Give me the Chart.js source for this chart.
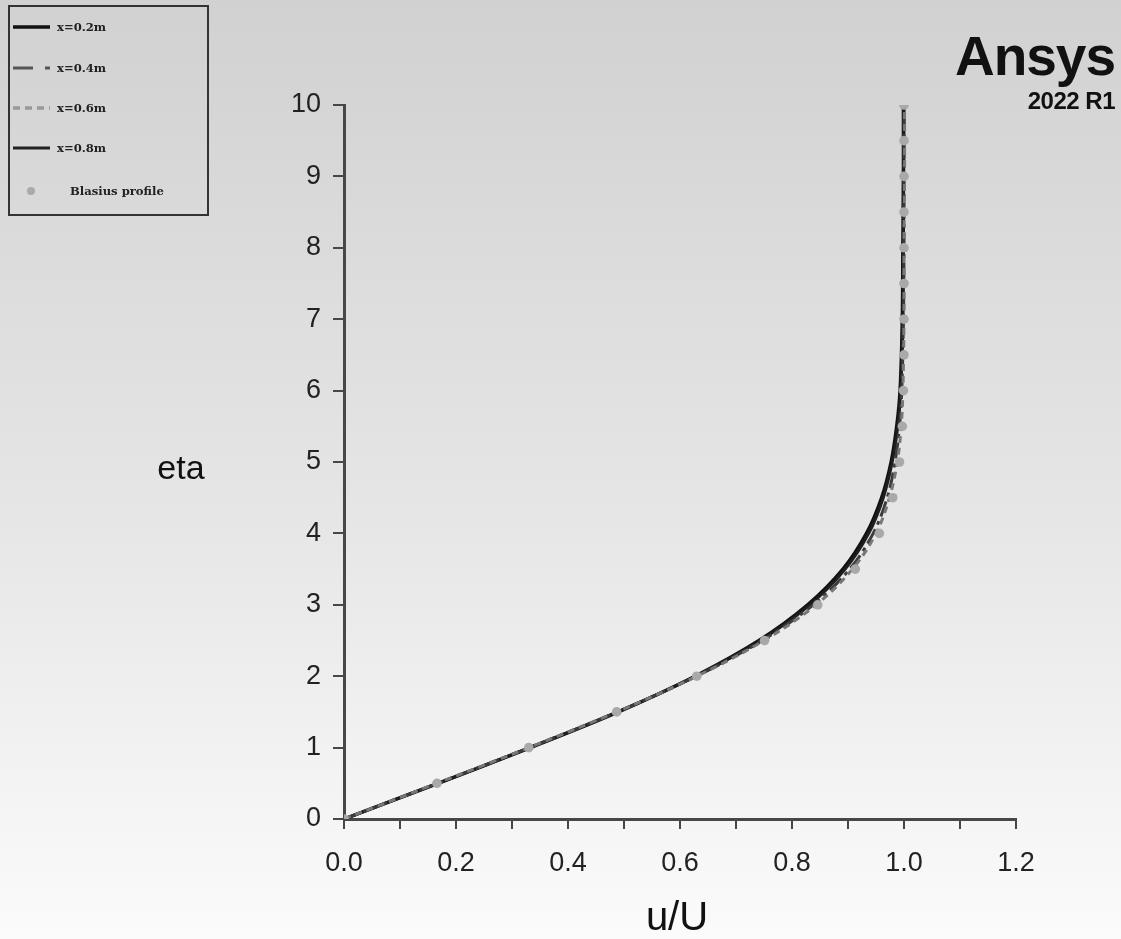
<!DOCTYPE html>
<html>
<head>
<meta charset="utf-8">
<script src="https://cdn.jsdelivr.net/npm/chart.js@4/dist/chart.umd.min.js"></script>
<style>
    body {
        margin: 0;
        width: 1121px;
        height: 939px;
        overflow: hidden;
        background: linear-gradient(#d1d1d1, #e6e6e6 55%, #fbfbfb);
        font-family: 'Liberation Sans', Arial, sans-serif;
    }
    #wrap { position: absolute; left: 0; top: 0; width: 1121px; height: 939px; }
    .abs { position: absolute; white-space: nowrap; }
    #legend_box {
        position: absolute; left: 8px; top: 5px; width: 201px; height: 211px;
        box-sizing: border-box; border: 2px solid #333;
    }
    .leg_text { font-family: 'DejaVu Serif', serif; font-weight: bold; font-size: 11.6px; color: #222; transform: translateY(-50%); }
    .axis_title { color: #111; transform: translate(-50%, -50%); }
</style>
</head>
<body>
<div id="wrap"><canvas id="profile_chart"></canvas></div>

<div id="legend_box"></div>
<svg class="abs" style="left:0;top:0" width="60" height="210">
    <line x1="13" y1="27" x2="50" y2="27" stroke="#111" stroke-width="3.5"/>
    <line x1="13" y1="68" x2="50" y2="68" stroke="#555" stroke-width="3" stroke-dasharray="20 12 5"/>
    <line x1="13" y1="108" x2="50" y2="108" stroke="#999" stroke-width="3.5" stroke-dasharray="7 5"/>
    <line x1="13" y1="148" x2="50" y2="148" stroke="#222" stroke-width="3"/>
    <circle cx="31" cy="191" r="4" fill="#aaa"/>
</svg>
<div class="abs leg_text" style="left:57px;top:27px">x=0.2m</div>
<div class="abs leg_text" style="left:57px;top:68px">x=0.4m</div>
<div class="abs leg_text" style="left:57px;top:108px">x=0.6m</div>
<div class="abs leg_text" style="left:57px;top:148px">x=0.8m</div>
<div class="abs leg_text" style="left:70px;top:191px">Blasius profile</div>

<div class="abs" style="right:6px;top:24px;font-weight:bold;font-size:55px;letter-spacing:-1px;color:#111">Ansys</div>
<div class="abs" style="right:6px;top:87px;font-weight:bold;font-size:24px;letter-spacing:-0.5px;color:#111">2022 R1</div>

<div class="abs axis_title" style="left:181px;top:467px;font-size:34px">eta</div>
<div class="abs axis_title" style="left:677px;top:916px;font-size:40px">u/U</div>

<script>
// eta stations of the CFD profiles
const etaCfd = [0, 0.5, 1, 1.5, 2, 2.5, 3, 3.5, 4, 4.5, 5, 5.5, 6, 7, 8, 9, 10];
// u/U
const uX02 = [0, 0.168, 0.333, 0.490, 0.627, 0.741, 0.828, 0.891, 0.933, 0.960, 0.977, 0.987, 0.993, 0.997, 0.998, 0.999, 0.999];
const uX04 = [0, 0.167, 0.331, 0.488, 0.629, 0.747, 0.838, 0.903, 0.945, 0.970, 0.984, 0.992, 0.996, 0.999, 1.000, 1.000, 1.000];
const uX06 = [0, 0.166, 0.330, 0.487, 0.630, 0.750, 0.843, 0.908, 0.950, 0.974, 0.988, 0.995, 0.998, 1.000, 1.000, 1.001, 1.001];
const uX08 = [0, 0.168, 0.332, 0.489, 0.628, 0.743, 0.832, 0.895, 0.937, 0.963, 0.979, 0.989, 0.994, 0.998, 0.999, 0.999, 1.000];

// Blasius markers
const etaBlasius = [0, 0.5, 1, 1.5, 2, 2.5, 3, 3.5, 4, 4.5, 5, 5.5, 6, 6.5, 7, 7.5, 8, 8.5, 9, 9.5, 10];
const uBlasius = [0, 0.166, 0.330, 0.487, 0.630, 0.751, 0.846, 0.913, 0.956, 0.980, 0.992, 0.997, 0.999, 1.0, 1.0, 1.0, 1.0, 1.0, 1.0, 1.0, 1.0];

const xTicks = { min: 0, max: 1.2, step: 0.1 };
const yTicks = { min: 0, max: 10, step: 1 };

function toPoints(us, etas) {
    return us.map((u, i) => ({ x: u, y: etas[i] }));
}

function lineSet(label, us, color, width, dash, order) {
    return {
        label: label,
        data: toPoints(us, etaCfd),
        showLine: true,
        borderColor: color,
        borderWidth: width,
        borderDash: dash,
        pointRadius: 0,
        tension: 0.35,
        fill: false,
        order: order
    };
}

const axisColor = '#474747';
const tickFont = { family: "'Liberation Sans', Arial, sans-serif", size: 27 };

new Chart(document.getElementById('profile_chart').getContext('2d'), {
    type: 'scatter',
    data: {
        datasets: [
            lineSet('x=0.2m', uX02, '#111', 3.5, [], 4),
            lineSet('x=0.4m', uX04, '#3c3c3c', 3, [16, 5, 4, 5], 2),
            lineSet('x=0.6m', uX06, '#777', 3, [7, 5], 1),
            lineSet('x=0.8m', uX08, '#1e1e1e', 3, [], 3),
            {
                label: 'Blasius profile',
                data: toPoints(uBlasius, etaBlasius),
                showLine: false,
                pointRadius: 4.8,
                pointBackgroundColor: '#a9a9a9',
                pointBorderWidth: 0,
                order: 0
            }
        ]
    },
    options: {
        responsive: true,
        maintainAspectRatio: false,
        animation: false,
        layout: { padding: { left: 0, top: 105, right: 105, bottom: 0 } },
        plugins: {
            legend: { display: false },
            tooltip: { enabled: false }
        },
        scales: {
            x: {
                type: 'linear',
                min: xTicks.min,
                max: xTicks.max,
                afterFit: scale => { scale.height = 120; },
                border: { color: axisColor, width: 3 },
                grid: { drawOnChartArea: false, color: axisColor, lineWidth: 2, tickLength: 10 },
                ticks: {
                    stepSize: xTicks.step,
                    autoSkip: false,
                    maxRotation: 0,
                    padding: 18,
                    color: '#222',
                    font: tickFont,
                    callback: v => (Math.round(v * 10) % 2 === 0 ? v.toFixed(1) : '')
                }
            },
            y: {
                type: 'linear',
                min: yTicks.min,
                max: yTicks.max,
                afterFit: scale => { scale.width = 344; },
                border: { color: axisColor, width: 3 },
                grid: { drawOnChartArea: false, color: axisColor, lineWidth: 2, tickLength: 11 },
                ticks: {
                    stepSize: yTicks.step,
                    padding: 12,
                    color: '#222',
                    font: tickFont
                }
            }
        }
    }
});
</script>
</body>
</html>
